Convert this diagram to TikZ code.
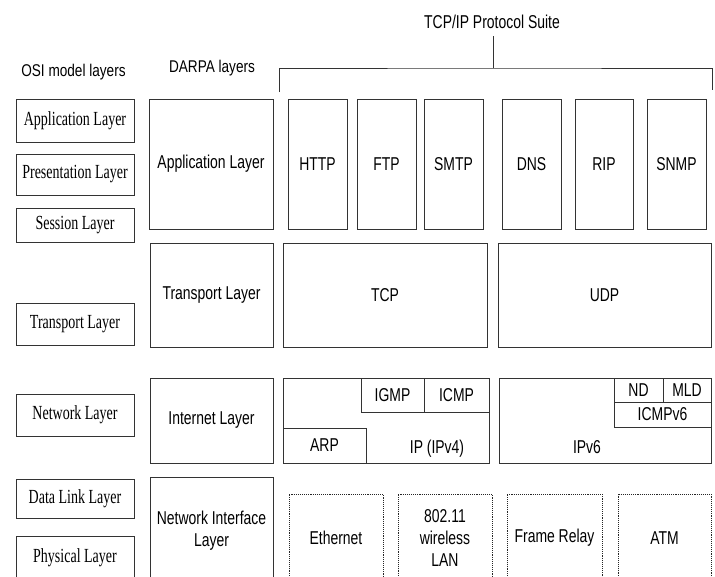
\documentclass[tikz,border=0pt]{standalone}
\usepackage{fontspec}
\newfontfamily\osifont[FakeStretch=0.70]{Liberation Serif}
\newfontfamily\protofont[FakeStretch=0.75]{Liberation Sans}
\newfontfamily\headfont[FakeStretch=0.80]{Liberation Sans}
\newcommand\mybox[7]{\node[#1, minimum width={#4-#2}, minimum height={#5-#3}] (#6) at ({(#2+#4)/2},{(#3+#5)/2}) {#7};}
\begin{document}
\begin{tikzpicture}[x=1pt,y=-1pt,
  box/.style={draw=black!80, line width=1pt, inner sep=0pt, align=center,
    font=\protofont\fontsize{18.6}{22}\selectfont},
  osibox/.style={box, font=\osifont\fontsize{20}{22}\selectfont},
  dotbox/.style={box, draw=black!85, line width=0.9pt, densely dotted},
  lbl/.style={inner sep=0pt, align=center, font=\protofont\fontsize{18.6}{22}\selectfont},
  head/.style={inner sep=0pt, font=\headfont\fontsize{17}{20}\selectfont},
  line/.style={draw=black!80, line width=1pt}]
\useasboundingbox (0,0) rectangle (715,576);
\clip (0,0) rectangle (715,576);
\fill[white] (0,0) rectangle (715,576);

% headers
\node[head] (osih) at (73.5,72) {OSI model layers};
\node[head] (darpah) at (212,68) {DARPA layers};
\node[lbl] (suite) at (492,22) {TCP/IP Protocol Suite};

% bracket
\coordinate (bl) at (279,92);
\coordinate (br) at (712,90);
\coordinate (bm) at (493,68);
\coordinate (bt) at (493,36);
\draw[line] (bl) |- (bm) -| (br);
\draw[line] (bm) -- (bt);

% OSI layers
\mybox{osibox}{16}{99}{134}{142}{osiapp}{Application Layer}
\mybox{osibox}{16}{154}{134}{195}{osipres}{Presentation Layer}
\mybox{osibox}{16}{208}{134}{242}{osisess}{Session Layer}
\mybox{osibox}{16}{303}{134}{345}{ositrans}{Transport Layer}
\mybox{osibox}{16}{394}{134}{436}{osinet}{Network Layer}
\mybox{osibox}{16}{479}{134}{518}{osidl}{Data Link Layer}
\mybox{osibox}{16}{536}{134}{580}{osiphy}{Physical Layer}

% DARPA layers
\mybox{box}{149}{99}{273}{229}{dapp}{Application Layer}
\mybox{box}{150}{243}{273}{347}{dtrans}{Transport Layer}
\mybox{box}{150}{378}{273}{463}{dint}{Internet Layer}
\mybox{box}{150}{477}{273}{585}{dni}{Network Interface\\Layer}

% application protocols
\mybox{box}{288}{99}{347}{229}{http}{HTTP}
\mybox{box}{357}{99}{416}{229}{ftp}{FTP}
\mybox{box}{424}{99}{483}{229}{smtp}{SMTP}
\mybox{box}{502}{99}{561}{229}{dns}{DNS}
\mybox{box}{575}{99}{633}{229}{rip}{RIP}
\mybox{box}{647}{99}{706}{229}{snmp}{SNMP}

% transport
\mybox{box}{283}{243}{487}{347}{tcp}{TCP}
\mybox{box}{498}{243}{711}{347}{udp}{UDP}

% internet IPv4
\mybox{box}{283}{378}{489}{463}{ipv4}{}
\mybox{box}{361}{378}{424}{412}{igmp}{IGMP}
\mybox{box}{424}{378}{489}{412}{icmp}{ICMP}
\mybox{box}{283}{428}{366}{463}{arp}{ARP}
\node[lbl] (ipv4t) at (437,449) {IP (IPv4)};

% internet IPv6
\mybox{box}{499}{378}{711}{463}{ipv6}{}
\mybox{box}{614}{378}{663}{402}{nd}{ND}
\mybox{box}{663}{378}{711}{402}{mld}{MLD}
\mybox{box}{614}{402}{711}{427}{icmpv6}{ICMPv6}
\node[lbl] (ipv6t) at (587,447) {IPv6};

% network interface technologies
\mybox{dotbox}{289}{494}{383}{582}{eth}{Ethernet}
\mybox{dotbox}{398}{494}{492}{582}{wlan}{802.11\\wireless\\LAN}
\mybox{dotbox}{507}{494}{602}{582}{fr}{Frame Relay}
\mybox{dotbox}{618}{494}{711}{582}{atm}{ATM}
\end{tikzpicture}
\end{document}
